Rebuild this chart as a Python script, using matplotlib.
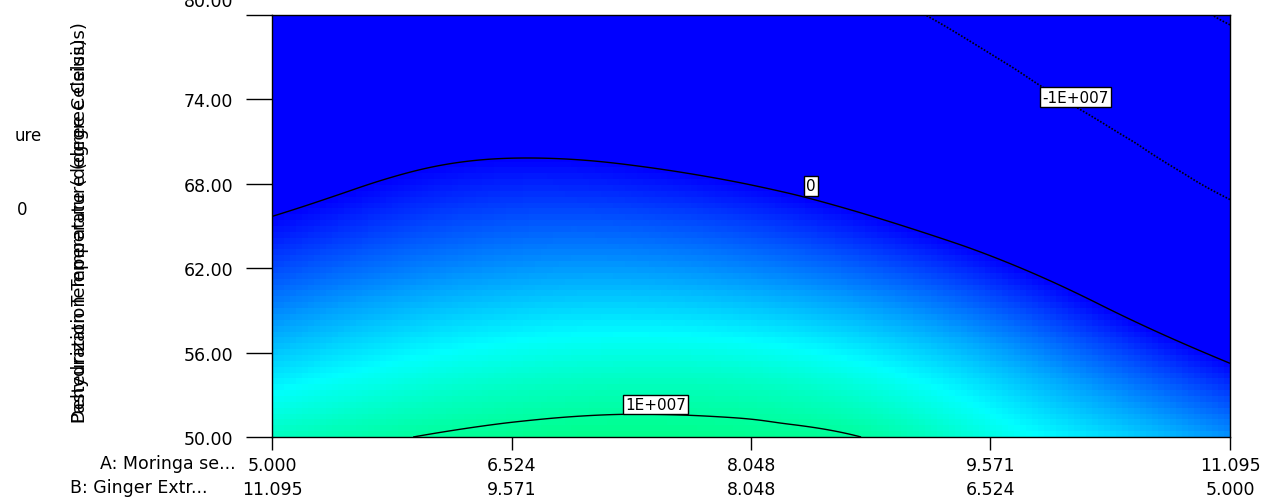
import numpy as np
import matplotlib
matplotlib.use("Agg")
import matplotlib.pyplot as plt
from matplotlib.colors import LinearSegmentedColormap
from matplotlib.transforms import ScaledTranslation
from matplotlib.tri import Triangulation, CubicTriInterpolator

# A: Moringa seed (x axis), B: Ginger extract runs the other way
a_vals = [5.000, 5.762, 6.524, 7.286, 8.048, 8.810, 9.571, 10.333, 11.095]
temp_vals = [50, 55, 60, 65, 70, 75, 80]
# response, in units of 1E+007, one row per temperature
resp_rows = [
    [0.90, 0.987, 1.042, 1.06, 1.044, 0.99, 0.80, 0.62, 0.41],
    [0.62, 0.74, 0.82, 0.85, 0.83, 0.73, 0.55, 0.30, 0.02],
    [0.33, 0.46, 0.54, 0.56, 0.51, 0.40, 0.21, -0.07, -0.40],
    [0.04, 0.18, 0.26, 0.26, 0.19, 0.05, -0.16, -0.45, -0.82],
    [-0.25, -0.08, -0.01, -0.04, -0.14, -0.31, -0.55, -0.86, -1.25],
    [-0.52, -0.36, -0.30, -0.33, -0.46, -0.67, -0.89, -1.18, -1.52],
    [-0.78, -0.63, -0.58, -0.63, -0.76, -0.92, -1.12, -1.48, -2.10],
]
contour_levels = [-2e7, -1e7, 0, 1e7]
label_text = ["1E+007", "0", "-1E+007"]
label_a = [7.44, 8.43, 10.11]
label_temp = [52.3, 67.85, 74.17]

xtick_vals = [5.000, 6.524, 8.048, 9.571, 11.095]
xtick_a = ["5.000", "6.524", "8.048", "9.571", "11.095"]
xtick_b = ["11.095", "9.571", "8.048", "6.524", "5.000"]
ytick_vals = [50, 56, 62, 68, 74, 80]

plt.rcParams["font.family"] = ["DejaVu Sans"]

# smooth the read grid with matplotlib's own cubic interpolator
aa, tt = np.meshgrid(a_vals, temp_vals)
zz = np.array(resp_rows) * 1e7
tri = Triangulation(aa.ravel(), tt.ravel())
interp = CubicTriInterpolator(tri, zz.ravel(), kind="min_E")
xi = np.linspace(a_vals[0] + 1e-6, a_vals[-1] - 1e-6, 160)
yi = np.linspace(temp_vals[0] + 1e-6, temp_vals[-1] - 1e-6, 72)
XI, YI = np.meshgrid(xi, yi)
ZI = interp(XI, YI)

# finer sampling just for the contour lines
xf = np.linspace(a_vals[0] + 1e-6, a_vals[-1] - 1e-6, 400)
yf = np.linspace(temp_vals[0] + 1e-6, temp_vals[-1] - 1e-6, 300)
XF, YF = np.meshgrid(xf, yf)
ZF = interp(XF, YF)

# blue -> cyan -> green, as in the Design-Expert plot
cmap = LinearSegmentedColormap.from_list(
    "de", [(0.0, "#0000ff"), (0.73 / 1.47, "#00ffff"),
           (1.10 / 1.47, "#00ff80"), (1.0, "#00ff00")])

fig = plt.figure(figsize=(12.79, 5.02), dpi=100)
ax = fig.add_axes([272 / 1279, 1 - 438 / 502, 958 / 1279, 422 / 502])

ax.imshow(ZI, origin="lower", aspect="auto", cmap=cmap, vmin=0, vmax=1.47e7,
          extent=[a_vals[0], a_vals[-1], temp_vals[0], temp_vals[-1]],
          interpolation="nearest")

ax.contour(XF, YF, ZF, levels=contour_levels, colors="black",
           linewidths=[1.2, 1.2, 1.0, 1.0],
           linestyles=[(0, (1, 1)), (0, (1, 1)), "solid", "solid"])

for txt, xa, yt in zip(label_text, label_a, label_temp):
    ax.text(xa, yt, txt, ha="center", va="center", fontsize=11, zorder=5,
            bbox=dict(boxstyle="square,pad=0.15", fc="white", ec="black", lw=1))

ax.set_xlim(a_vals[0], a_vals[-1])
ax.set_ylim(temp_vals[0], temp_vals[-1])

ax.set_yticks(ytick_vals)
ax.set_yticklabels(["%.2f" % v for v in ytick_vals], fontsize=12.5)
ax.tick_params(axis="y", length=19, width=1, pad=9, direction="out")
# the top label sits higher and is cut by the top edge in the original
top = ax.get_yticklabels()[-1]
top.set_transform(top.get_transform() + ScaledTranslation(0, 0.16, fig.dpi_scale_trans))

ax.set_xticks(xtick_vals)
ax.set_xticklabels([a + "\n" + b for a, b in zip(xtick_a, xtick_b)],
                   fontsize=12.5, linespacing=1.4)
ax.tick_params(axis="x", length=9, width=1, pad=5, direction="out")

for s in ax.spines.values():
    s.set_linewidth(1)

# factor names in front of the first tick label
fig.text(236 / 1279, 1 - 464 / 502, "A: Moringa se...", ha="right",
         va="center", fontsize=12.5)
fig.text(207 / 1279, 1 - 488 / 502, "B: Ginger Extr...", ha="right",
         va="center", fontsize=12.5)

# two axis titles drawn on top of each other
for name in ["Dehydration Temperature (degree Celsius)",
             "Pasteurization Temperature (degree Celsius)"]:
    fig.text(80 / 1279, 1 - 423 / 502, name, rotation=90, ha="center",
             va="bottom", fontsize=13)

# legend remnants at the left edge
fig.text(42 / 1279, 1 - 136 / 502, "ure", ha="right", va="center", fontsize=12)
fig.text(22 / 1279, 1 - 210 / 502, "0", ha="center", va="center", fontsize=12)

fig.savefig("out.png", dpi=100)
